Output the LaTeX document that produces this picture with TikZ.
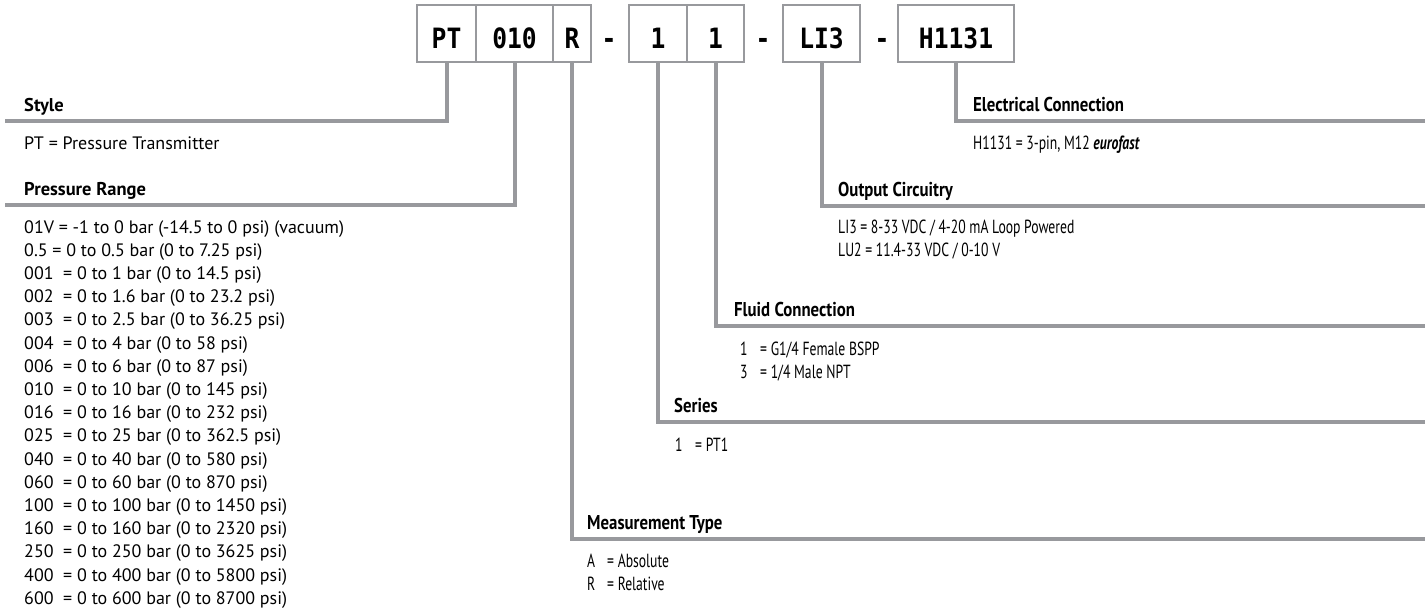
\documentclass[tikz,border=0pt]{standalone}
\usepackage{fontspec}
\setmainfont{PT Sans}
\newfontfamily\condf[FakeStretch=0.72]{PT Sans}
\newfontfamily\condb[FakeStretch=0.84]{PT Sans}
\newfontfamily\monof[FakeStretch=0.88]{DejaVu Sans Mono}
\definecolor{lg}{RGB}{152,153,157}
\begin{document}
\begin{tikzpicture}[x=1pt,y=-1pt,
  conn/.style={draw=lg,line width=4pt,line join=miter},
  codebox/.style={draw=lg,line width=2.6pt,minimum height=57pt,inner sep=0pt,
    text height=29pt,text depth=0pt,font=\monof\bfseries\fontsize{28}{28}\selectfont},
  sepdash/.style={inner sep=0pt,anchor=base,font=\monof\bfseries\fontsize{28}{28}\selectfont},
  lhead/.style={anchor=base west,inner sep=0pt,font=\bfseries\fontsize{18.5}{22}\selectfont},
  ltext/.style={anchor=base west,inner sep=0pt,font=\fontsize{18}{22}\selectfont},
  rhead/.style={anchor=base west,inner sep=0pt,font=\condb\bfseries\fontsize{20}{22}\selectfont},
  rtext/.style={anchor=base west,inner sep=0pt,font=\condf\fontsize{19}{22}\selectfont},
]
\useasboundingbox (0,0) rectangle (1425,611);

% code boxes
\node[codebox,minimum width=59pt] (bpt) at (446.5,33.5) {PT};
\node[codebox,minimum width=77pt] (b010) at (514.5,33.5) {010};
\node[codebox,minimum width=38pt] (br) at (572,33.5) {R};
\node[sepdash] (d1) at (609,48) {-};
\node[codebox,minimum width=58pt] (bs) at (658,33.5) {1};
\node[codebox,minimum width=57pt] (bf) at (715.5,33.5) {1};
\node[sepdash] (d2) at (763,48) {-};
\node[codebox,minimum width=77pt] (bo) at (821.5,33.5) {LI3};
\node[sepdash] (d3) at (882,48) {-};
\node[codebox,minimum width=116pt] (be) at (956,33.5) {H1131};

% connector end points
\coordinate (cstyle) at (5,121);
\coordinate (cpress) at (5,205);
\coordinate (celec) at (1425,121);
\coordinate (cout) at (1425,206);
\coordinate (cfluid) at (1425,326);
\coordinate (cser) at (1425,422);
\coordinate (cmeas) at (1425,539);

\draw[conn] (bpt.south) |- (cstyle);
\draw[conn] (b010.south) |- (cpress);
\draw[conn] (br.south) |- (cmeas);
\draw[conn] (bs.south) |- (cser);
\draw[conn] (bf.south) |- (cfluid);
\draw[conn] (bo.south) |- (cout);
\draw[conn] (be.south) |- (celec);

% left side
\node[lhead] (hstyle) at (24,111) {Style};
\node[ltext] (tstyle) at (24,149) {PT = Pressure Transmitter};
\node[lhead] (hpress) at (24,195) {Pressure Range};
\foreach \t [count=\i from 0] in {
  01V = -1 to 0 bar (-14.5 to 0 psi) (vacuum),
  0.5 = 0 to 0.5 bar (0 to 7.25 psi),
  001\ \ = 0 to 1 bar (0 to 14.5 psi),
  002\ \ = 0 to 1.6 bar (0 to 23.2 psi),
  003\ \ = 0 to 2.5 bar (0 to 36.25 psi),
  004\ \ = 0 to 4 bar (0 to 58 psi),
  006\ \ = 0 to 6 bar (0 to 87 psi),
  010\ \ = 0 to 10 bar (0 to 145 psi),
  016\ \ = 0 to 16 bar (0 to 232 psi),
  025\ \ = 0 to 25 bar (0 to 362.5 psi),
  040\ \ = 0 to 40 bar (0 to 580 psi),
  060\ \ = 0 to 60 bar (0 to 870 psi),
  100\ \ = 0 to 100 bar (0 to 1450 psi),
  160\ \ = 0 to 160 bar (0 to 2320 psi),
  250\ \ = 0 to 250 bar (0 to 3625 psi),
  400\ \ = 0 to 400 bar (0 to 5800 psi),
  600\ \ = 0 to 600 bar (0 to 8700 psi)}
  \node[ltext] (pr\i) at (24,{233+23.2*\i}) {\t};

% right side
\node[rhead] (helec) at (973,111) {Electrical Connection};
\node[rtext] (telec) at (973,149) {H1131 = 3-pin, M12 \textbf{\textit{eurofast}}};

\node[rhead] (hout) at (838,196) {Output Circuitry};
\node[rtext] (tout1) at (838,233) {LI3 = 8-33 VDC / 4-20 mA Loop Powered};
\node[rtext] (tout2) at (838,256) {LU2 = 11.4-33 VDC / 0-10 V};

\node[rhead] (hfluid) at (734,316) {Fluid Connection};
\node[rtext] (tfluid1) at (740,355) {\makebox[20pt][l]{1}= G1/4 Female BSPP};
\node[rtext] (tfluid2) at (740,378) {\makebox[20pt][l]{3}= 1/4 Male NPT};

\node[rhead] (hser) at (674,412) {Series};
\node[rtext] (tser) at (675,451) {\makebox[20pt][l]{1}= PT1};

\node[rhead] (hmeas) at (587,529) {Measurement Type};
\node[rtext] (tmeas1) at (587,567) {\makebox[20pt][l]{A}= Absolute};
\node[rtext] (tmeas2) at (587,590) {\makebox[20pt][l]{R}= Relative};
\end{tikzpicture}
\end{document}
